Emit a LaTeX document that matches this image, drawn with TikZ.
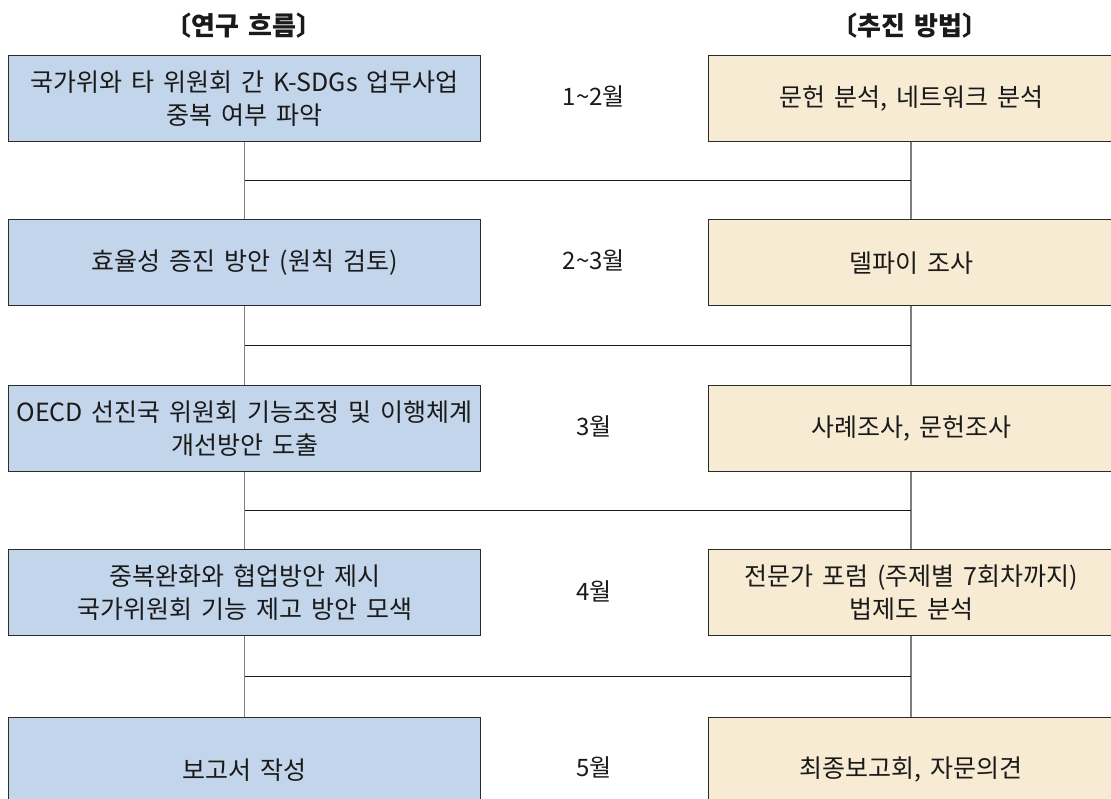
\documentclass[tikz,border=0pt]{standalone}
\usepackage{fontspec}
\setmainfont{Noto Sans CJK KR}[WordSpace=1.6]
\usetikzlibrary{calc}
\definecolor{bluebox}{HTML}{C3D5EA}
\definecolor{beigebox}{HTML}{F7EBD3}
\definecolor{conn}{HTML}{7F7F7F}
\definecolor{edge}{HTML}{2B2B2B}
\definecolor{txt}{HTML}{1A1A1A}
\tikzset{
  basebox/.style={draw=edge, line width=1.3pt, minimum height=86pt, anchor=north west,
    inner sep=0pt, align=center, text=txt, font=\fontsize{25}{33}\selectfont},
  flowbox/.style={basebox, fill=bluebox, minimum width=472pt},
  methbox/.style={basebox, fill=beigebox, minimum width=405pt},
  monthlbl/.style={text=txt, inner sep=0pt, font=\fontsize{24}{28}\selectfont},
  headlbl/.style={text=txt, inner sep=0pt, font=\fontsize{26}{30}\selectfont\bfseries},
  vconn/.style={draw=conn, line width=1.6pt},
  hconn/.style={draw=black!90, line width=1.2pt}
}
\begin{document}
\begin{tikzpicture}[x=1pt, y=-1pt]
\useasboundingbox (0,0) rectangle (1111,798);
\clip (0,0) rectangle (1111,798);
\fill[white] (0,0) rectangle (1111,798);

\node[headlbl] (H1) at (244,26) {〔연구 흐름〕};
\node[headlbl] (H2) at (910,26) {〔추진 방법〕};

\node[flowbox] (L1) at (8,55) {국가위와 타 위원회 간 K-SDGs 업무사업\\중복 여부 파악};
\node[flowbox] (L2) at (8,219) {효율성 증진 방안 (원칙 검토)};
\node[flowbox] (L3) at (8,385) {OECD 선진국 위원회 기능조정 및 이행체계\\개선방안 도출};
\node[flowbox] (L4) at (8,549) {중복완화와 협업방안 제시\\국가위원회 기능 제고 방안 모색};
\node[flowbox, minimum height=104pt] (L5) at (8,717) {보고서 작성};

\node[methbox] (R1) at (708,55) {문헌 분석, 네트워크 분석};
\node[methbox] (R2) at (708,219) {델파이 조사};
\node[methbox] (R3) at (708,385) {사례조사, 문헌조사};
\node[methbox] (R4) at (708,549) {전문가 포럼 (주제별 7회차까지)\\법제도 분석};
\node[methbox, minimum height=104pt] (R5) at (708,717) {최종보고회, 자문의견};

\node[monthlbl] (M1) at (594,96) {1\textasciitilde2월};
\node[monthlbl] (M2) at (594,260) {2\textasciitilde3월};
\node[monthlbl] (M3) at (594,426) {3월};
\node[monthlbl] (M4) at (594,591) {4월};
\node[monthlbl] (M5) at (594,767) {5월};

\foreach \a/\b in {1/2,2/3,3/4,4/5}{
  \draw[vconn] (L\a.south) -- (L\b.north);
  \draw[vconn] (R\a.south) -- (R\b.north);
  \draw[hconn] ($(L\a.south)!0.5!(L\b.north)$) -- ($(R\a.south)!0.5!(R\b.north)$);
}
\end{tikzpicture}
\end{document}
